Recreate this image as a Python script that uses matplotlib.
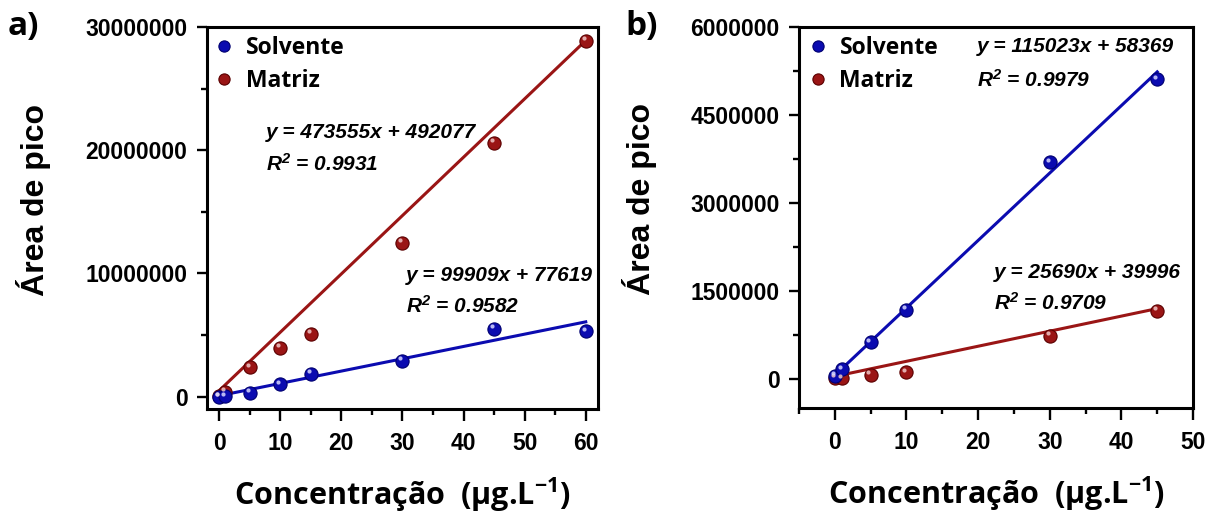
import matplotlib
matplotlib.use("Agg")
import matplotlib.pyplot as plt
import matplotlib.transforms as mtransforms
from matplotlib.ticker import MultipleLocator, AutoMinorLocator, FuncFormatter
from matplotlib.font_manager import FontProperties
import numpy as np

### Data
conc_a = [0, 1, 5, 10, 15, 30, 45, 60]
solvente_a = [0, 50000, 300000, 1000000, 1850000, 2900000, 5500000, 5300000]
matriz_a = [50000, 400000, 2400000, 3950000, 5100000, 12500000, 20600000, 28900000]

conc_b = [0, 1, 5, 10, 30, 45]
solvente_b = [50000, 160000, 620000, 1180000, 3690000, 5110000]
matriz_b = [20000, 10000, 70000, 110000, 730000, 1160000]

# fitted lines (slope, intercept) as printed on the chart
fit_a = {"Solvente": (99909, 77619), "Matriz": (473555, 492077)}
fit_b = {"Solvente": (115023, 58369), "Matriz": (25690, 39996)}
eq_a = {"Solvente": ("y = 99909x + 77619", "0.9582"),
        "Matriz": ("y = 473555x + 492077", "0.9931")}
eq_b = {"Solvente": ("y = 115023x + 58369", "0.9979"),
        "Matriz": ("y = 25690x + 39996", "0.9709")}

blue = "#0b0bb0"
red = "#9a1515"
blue_dark = "#000070"
red_dark = "#5a0000"

fig = plt.figure(figsize=(12.09, 5.16), dpi=100)
ax_a = fig.add_axes([0.1712, 0.2074, 0.3234, 0.7403])
ax_b = fig.add_axes([0.6609, 0.2093, 0.3259, 0.7384])

tick_font = dict(family=["Liberation Sans", "DejaVu Sans"], weight="bold", size=16.5)
ylabel_font = dict(family=["Liberation Sans", "DejaVu Sans"], weight="bold", size=23)
xlabel_font = dict(family=["Open Sans", "DejaVu Sans"], weight="bold", size=22)
eq_font = dict(family=["Liberation Sans", "DejaVu Sans"], weight="bold", style="italic", size=15)


def balls(ax, x, y, color, dark, label=None):
    # shaded sphere look: dark rim, coloured body, small highlight
    ax.plot(x, y, "o", ms=9.5, mfc=color, mec=dark, mew=0.8, ls="none",
            label=label, zorder=4, clip_on=False)
    hl = mtransforms.offset_copy(ax.transData, fig=ax.figure, x=-1.6, y=1.8, units="points")
    ax.plot(x, y, "o", ms=3.0, mfc="#d8d8ff" if color == blue else "#f0c8c8",
            mec="none", ls="none", transform=hl, zorder=5, clip_on=False, alpha=0.85)


def style_axes(ax, xlim, ylim, ymajor, xmajor, ylab_x, ylab_y):
    ax.set_xlim(*xlim)
    ax.set_ylim(*ylim)
    ax.yaxis.set_major_locator(MultipleLocator(ymajor))
    ax.yaxis.set_minor_locator(AutoMinorLocator(2))
    ax.xaxis.set_major_locator(MultipleLocator(xmajor))
    ax.xaxis.set_minor_locator(AutoMinorLocator(2))
    for s in ax.spines.values():
        s.set_linewidth(2.2)
    ax.tick_params(which="major", direction="out", length=7, width=1.7, pad=7)
    ax.tick_params(which="minor", direction="out", length=4.5, width=1.7)
    ax.tick_params(axis="x", which="major", length=8.5, pad=8)
    ax.tick_params(top=False, right=False)
    ax.yaxis.set_major_formatter(FuncFormatter(lambda v, p: f"{int(round(v))}"))
    for lab in ax.get_xticklabels() + ax.get_yticklabels():
        lab.set_fontproperties(FontProperties(**tick_font))
    ax.set_ylabel("Área de pico", **ylabel_font)
    ax.yaxis.set_label_coords(ylab_x, ylab_y)
    ax.yaxis.label.set_ha("center")
    ax.set_xlabel("Concentração  (μg.L$\\mathregular{^{-1}}$)", **xlabel_font)
    ax.xaxis.set_label_coords(0.5, -0.225)
    ax.xaxis.label.set_va("center")


def fit_lines(ax, xmax, fits):
    xx = np.array([0, xmax])
    for name, (m, b) in fits.items():
        ax.plot(xx, m * xx + b, color=blue if name == "Solvente" else red, lw=2.2, zorder=3)


def r2(v):
    return "R$\\mathregular{^2}$ = " + v


### Panel a
fit_lines(ax_a, 60, fit_a)
balls(ax_a, conc_a, matriz_a, red, red_dark, "Matriz")
balls(ax_a, conc_a, solvente_a, blue, blue_dark, "Solvente")
style_axes(ax_a, (-2, 62), (-1000000, 30000000), 10000000, 10, -0.40, 0.547)
ax_a.text(7.7, 21450000, eq_a["Matriz"][0], va="center", **eq_font)
ax_a.text(7.7, 18900000, r2(eq_a["Matriz"][1]), va="center", **eq_font)
ax_a.text(30.5, 9830000, eq_a["Solvente"][0], va="center", **eq_font)
ax_a.text(30.5, 7400000, r2(eq_a["Solvente"][1]), va="center", **eq_font)

### Panel b
fit_lines(ax_b, 45, fit_b)
balls(ax_b, conc_b, matriz_b, red, red_dark, "Matriz")
balls(ax_b, conc_b, solvente_b, blue, blue_dark, "Solvente")
style_axes(ax_b, (-5, 50), (-500000, 6000000), 1500000, 10, -0.36, 0.549)
ax_b.text(19.8, 5660000, eq_b["Solvente"][0], va="center", **eq_font)
ax_b.text(19.8, 5100000, r2(eq_b["Solvente"][1]), va="center", **eq_font)
ax_b.text(22.2, 1810000, eq_b["Matriz"][0], va="center", **eq_font)
ax_b.text(22.2, 1300000, r2(eq_b["Matriz"][1]), va="center", **eq_font)

# legends (Solvente first)
for ax, x0 in ((ax_a, 0.0153), (ax_b, 0.02)):
    h, l = ax.get_legend_handles_labels()
    ax.legend(h[::-1], l[::-1], loc="upper left", bbox_to_anchor=(x0, 0.976),
              frameon=False, handletextpad=0.42, labelspacing=0.4,
              borderaxespad=0, borderpad=0, handlelength=1.0, markerscale=0.85,
              prop=dict(family=["Open Sans", "DejaVu Sans"], weight="bold", size=16.5))

# panel letters
fig.text(0.006, 0.948, "a)", family=["Open Sans", "DejaVu Sans"], weight="bold", size=24, va="center")
fig.text(0.517, 0.948, "b)", family=["Open Sans", "DejaVu Sans"], weight="bold", size=24, va="center")

fig.savefig("out.png", dpi=100, facecolor="white")
